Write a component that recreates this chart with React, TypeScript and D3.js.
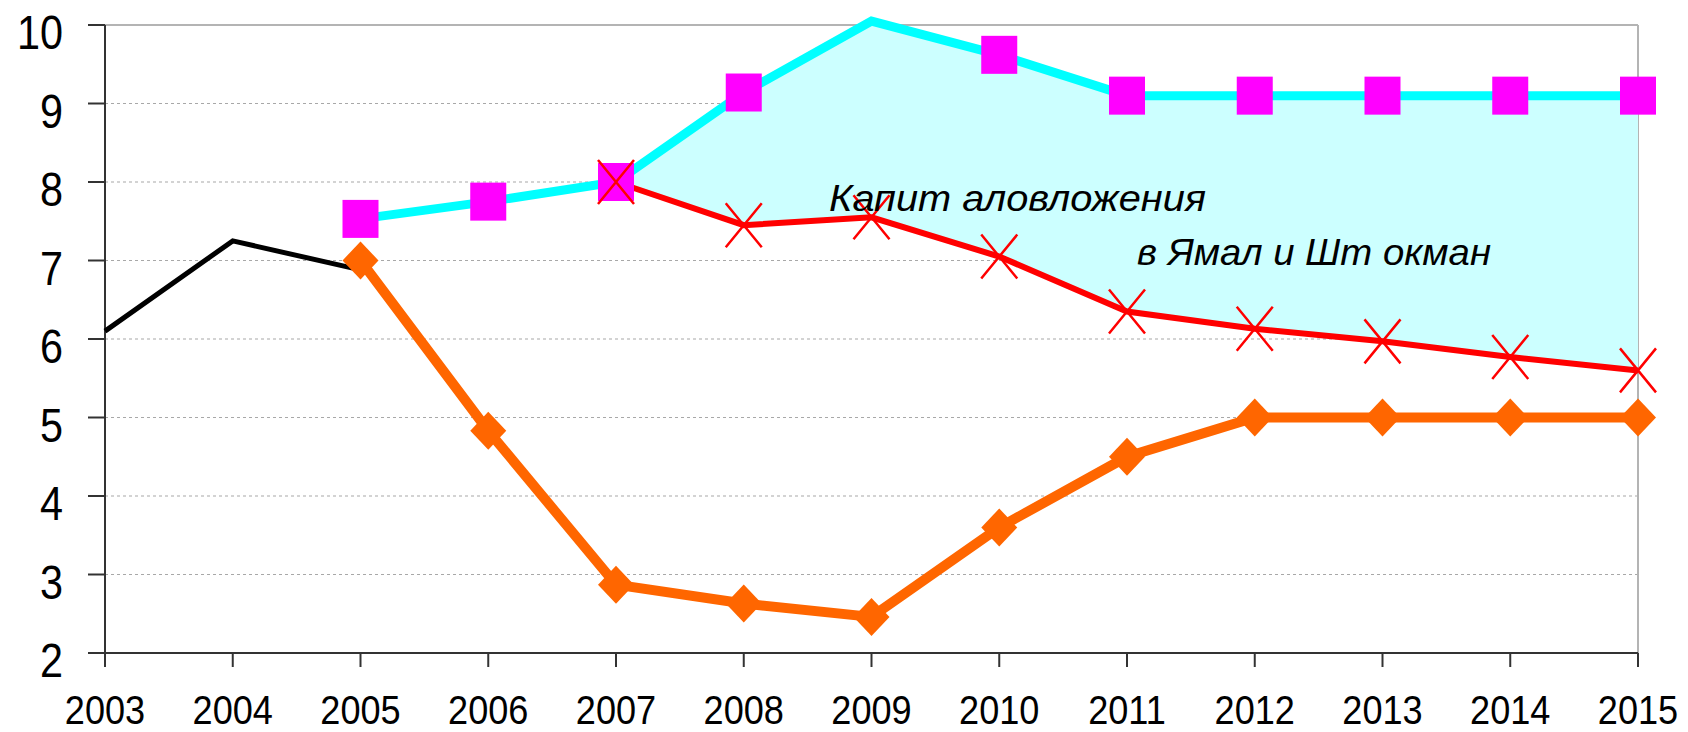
import { area, line, range, scaleLinear } from "d3";

const years = range(2003, 2016);
const yTicks = [2, 3, 4, 5, 6, 7, 8, 9, 10];

// black line, 2003–2005
const historyYears = [2003, 2004, 2005];
const historyValues = [6.1, 7.25, 6.88];

// cyan line with magenta squares, 2005–2015
const upperYears = range(2005, 2016);
const upperValues = [7.53, 7.75, 8.0, 9.14, 10.05, 9.62, 9.1, 9.1, 9.1, 9.1, 9.1];

// red line with crosses, 2007–2015
const redYears = range(2007, 2016);
const redValues = [8.0, 7.45, 7.55, 7.05, 6.35, 6.13, 5.97, 5.77, 5.6];

// orange line with diamonds, 2005–2015
const orangeYears = range(2005, 2016);
const orangeValues = [7.0, 4.83, 2.87, 2.63, 2.46, 3.6, 4.5, 5.0, 5.0, 5.0, 5.0];

const noteLines = ["Капит аловложения", "в Ямал и Шт окман"];

const width = 1688;
const height = 732;
const left = 105;
const right = 1638;
const top = 25;
const bottom = 653;

type Point = [number, number];

function zip(xs: readonly number[], vs: readonly number[]): Point[] {
  return xs.map((year, i) => [year, vs[i]]);
}

export default function App(): React.JSX.Element {
  const x = scaleLinear().domain([2003, 2015]).range([left, right]);
  const y = scaleLinear().domain([2, 10]).range([bottom, top]);

  const pathLine = line<Point>()
    .x(([year]) => x(year))
    .y(([, value]) => y(value));

  const upper = zip(upperYears, upperValues);
  const red = zip(redYears, redValues);
  const orange = zip(orangeYears, orangeValues);
  const history = zip(historyYears, historyValues);

  // shaded band between the red and the cyan line, from 2007 on
  const band = redYears.map((year, i) => ({
    year,
    low: redValues[i],
    high: upperValues[upperYears.indexOf(year)]
  }));
  const bandPath =
    area<{ year: number; low: number; high: number }>()
      .x((d) => x(d.year))
      .y0((d) => y(d.low))
      .y1((d) => y(d.high))(band) ?? "";

  const font = "'Liberation Sans', Arial, sans-serif";

  return (
    <svg
      width={width}
      height={height}
      viewBox={`0 0 ${width} ${height}`}
      style={{ position: "absolute", left: 0, top: 0, background: "#fff" }}
    >
      {/* gridlines */}
      {yTicks
        .filter((t) => t > 2 && t < 10)
        .map((t) => (
          <line
            key={`g${t}`}
            x1={left}
            x2={right}
            y1={y(t)}
            y2={y(t)}
            stroke="#a8a8a8"
            strokeWidth={1.2}
            strokeDasharray="3 3"
          />
        ))}
      <line x1={left} x2={right} y1={y(10)} y2={y(10)} stroke="#b4b4b4" strokeWidth={2} />
      <line x1={right} x2={right} y1={y(10)} y2={y(2)} stroke="#b4b4b4" strokeWidth={2} />

      <path d={bandPath} fill="#ccffff" />

      {/* axes */}
      <line x1={left} x2={left} y1={y(10)} y2={y(2)} stroke="#333" strokeWidth={2} />
      <line x1={left} x2={right} y1={y(2)} y2={y(2)} stroke="#333" strokeWidth={2} />
      {yTicks.map((t) => (
        <g key={`yt${t}`}>
          <line x1={left - 17} x2={left} y1={y(t)} y2={y(t)} stroke="#333" strokeWidth={2} />
          <text
            transform={`translate(63,${y(t) + 24}) scale(0.92,1.08)`}
            textAnchor="end"
            fontFamily={font}
            fontSize={45}
            fill="#000"
          >
            {t}
          </text>
        </g>
      ))}
      {years.map((year) => (
        <g key={`xt${year}`}>
          <line x1={x(year)} x2={x(year)} y1={y(2)} y2={y(2) + 14} stroke="#333" strokeWidth={2} />
          <text
            transform={`translate(${x(year)},724) scale(0.95,1.05)`}
            textAnchor="middle"
            fontFamily={font}
            fontSize={38}
            fill="#000"
          >
            {year}
          </text>
        </g>
      ))}

      {/* lines */}
      <path d={pathLine(history) ?? ""} fill="none" stroke="#000" strokeWidth={5} />
      <path d={pathLine(upper) ?? ""} fill="none" stroke="#00ffff" strokeWidth={9} />
      <path d={pathLine(red) ?? ""} fill="none" stroke="#ff0000" strokeWidth={6} />
      <path d={pathLine(orange) ?? ""} fill="none" stroke="#ff6600" strokeWidth={10} />

      {/* markers */}
      {upper
        .filter(([, v]) => v <= 10)
        .map(([year, v]) => (
          <rect
            key={`sq${year}`}
            x={x(year) - 18}
            y={y(v) - 19}
            width={36}
            height={38}
            fill="#ff00ff"
          />
        ))}
      {orange.map(([year, v]) => (
        <path
          key={`dm${year}`}
          d={`M${x(year)},${y(v) - 19}L${x(year) + 18},${y(v)}L${x(year)},${y(v) + 19}L${x(year) - 18},${y(v)}Z`}
          fill="#ff6600"
        />
      ))}
      {red.map(([year, v]) => (
        <path
          key={`cr${year}`}
          d={`M${x(year) - 18},${y(v) - 22}L${x(year) + 18},${y(v) + 22}M${x(year) + 18},${y(v) - 22}L${x(year) - 18},${y(v) + 22}`}
          stroke="#ff0000"
          strokeWidth={2.5}
          fill="none"
        />
      ))}

      {/* annotation */}
      <text
        x={829}
        y={211}
        fontFamily={font}
        fontStyle="italic"
        fontSize={37}
        textLength={377}
        lengthAdjust="spacingAndGlyphs"
        fill="#000"
      >
        {noteLines[0]}
      </text>
      <text
        x={1137}
        y={265}
        fontFamily={font}
        fontStyle="italic"
        fontSize={37}
        textLength={354}
        lengthAdjust="spacingAndGlyphs"
        fill="#000"
      >
        {noteLines[1]}
      </text>
    </svg>
  );
}
